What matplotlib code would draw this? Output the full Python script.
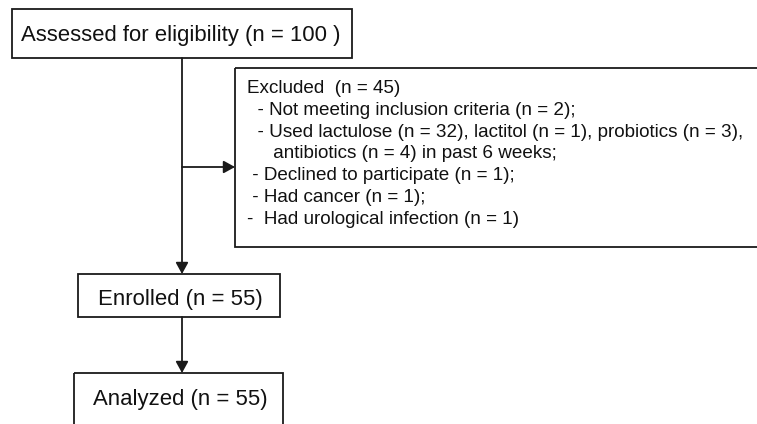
import matplotlib
matplotlib.use("Agg")
import matplotlib.pyplot as plt
from matplotlib.patches import Rectangle, FancyArrowPatch

plt.rcParams['font.family'] = ['Liberation Sans', 'DejaVu Sans']

# Content
assessed_label = "Assessed for eligibility (n = 100 )"
enrolled_label = "Enrolled (n = 55)"
analyzed_label = "Analyzed (n = 55)"
excluded_lines = [
    "Excluded  (n = 45)",
    "  - Not meeting inclusion criteria (n = 2);",
    "  - Used lactulose (n = 32), lactitol (n = 1), probiotics (n = 3),",
    "     antibiotics (n = 4) in past 6 weeks;",
    " - Declined to participate (n = 1);",
    " - Had cancer (n = 1);",
    "-  Had urological infection (n = 1)",
]

W, H = 757, 424
fig = plt.figure(figsize=(W / 100, H / 100), dpi=100)
ax = fig.add_axes([0, 0, 1, 1])
ax.set_xlim(0, W)
ax.set_ylim(H, 0)
ax.axis('off')

lc = '#1a1a1a'
lw = 1.3

def box(x0, y0, x1, y1):
    ax.add_patch(Rectangle((x0, y0), x1 - x0, y1 - y0, fill=False,
                           edgecolor=lc, linewidth=lw, clip_on=False))

def arrow(x0, y0, x1, y1):
    ax.add_patch(FancyArrowPatch((x0, y0), (x1, y1), arrowstyle='-|>,head_length=0.4,head_width=0.22',
                                 mutation_scale=17, color=lc, linewidth=lw,
                                 shrinkA=0, shrinkB=0))

# Boxes
box(12, 9, 352, 58)
box(235, 68, 760, 247)
box(78, 274, 280, 317)
box(74, 373, 283, 430)

# Connectors
arrow(182, 58, 182, 274)
arrow(182, 167, 235, 167)
arrow(182, 317, 182, 373)

# Texts
tc = '#111111'
ax.text(181, 36, assessed_label, fontsize=15.9, ha='center', va='center', color=tc)
ax.text(180, 300, enrolled_label, fontsize=15.9, ha='center', va='center', color=tc)
ax.text(180, 400, analyzed_label, fontsize=15.9, ha='center', va='center', color=tc)

y0 = 88.5
dy = 21.8
for i, line in enumerate(excluded_lines):
    ax.text(247, y0 + i * dy, line, fontsize=13.6, ha='left', va='center', color=tc)

fig.savefig('out.png', dpi=100)
